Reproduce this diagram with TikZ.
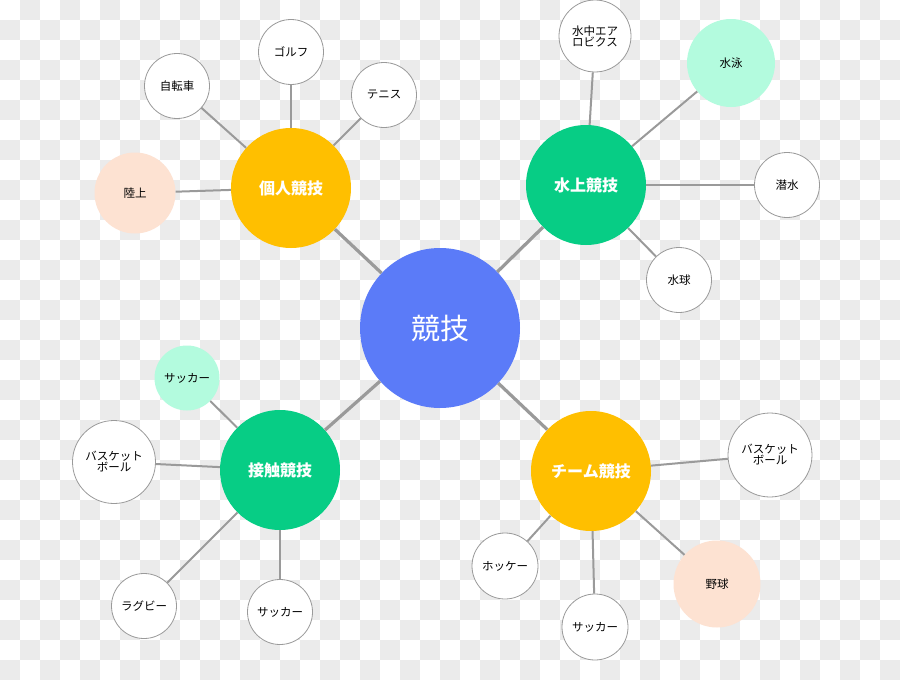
\documentclass[tikz,border=0pt]{standalone}
\usepackage{fontspec}
\setmainfont{Noto Sans CJK JP}
\definecolor{checkgray}{HTML}{EBEBEB}
\definecolor{hubblue}{HTML}{5B7BF8}
\definecolor{midyellow}{HTML}{FFBF00}
\definecolor{midgreen}{HTML}{07CD85}
\definecolor{mintfill}{HTML}{B3FBDE}
\definecolor{peachfill}{HTML}{FDE2D2}
\definecolor{edgegray}{HTML}{9A9A9A}
\tikzset{
  hub/.style={circle, fill=hubblue, inner sep=0pt, minimum size=160pt, text=white, font=\fontsize{29}{30}\selectfont},
  mid/.style={circle, fill=#1, inner sep=0pt, minimum size=120pt, text=white, font=\fontsize{16}{18}\selectfont\bfseries},
  leaf/.style={circle, draw=edgegray, line width=0.8pt, fill=white, inner sep=0pt, minimum size=#1, text=black, align=center, font=\fontsize{11.5}{12}\selectfont},
  leaf/.default=65pt,
  mintleaf/.style={circle, fill=mintfill, inner sep=0pt, minimum size=#1, text=black, font=\fontsize{11.5}{12}\selectfont},
  peachleaf/.style={circle, fill=peachfill, inner sep=0pt, minimum size=#1, text=black, font=\fontsize{11.5}{12}\selectfont},
  spoke/.style={draw=edgegray, line width=3.2pt},
  twig/.style={draw=edgegray, line width=2pt},
}
\begin{document}
\begin{tikzpicture}[x=1pt,y=-1pt]
\useasboundingbox (0,0) rectangle (900,680);
\fill[white] (0,0) rectangle (900,680);
\foreach \i in {0,...,44}{
  \foreach \j in {0,...,33}{
    \pgfmathtruncatemacro\cellpar{mod(\i+\j,2)}
    \ifnum\cellpar=1 \fill[checkgray] (\i*20,\j*20) rectangle ++(20,20); \fi
  }
}
% hub and middle nodes
\node[hub] (hub) at (440,328) {競技};
\node[mid=midyellow] (indiv) at (291,188) {個人競技};
\node[mid=midgreen] (water) at (586,185) {水上競技};
\node[mid=midgreen] (contact) at (280,470) {接触競技};
\node[mid=midyellow] (team) at (591,471) {チーム競技};
% leaves
\node[leaf] (golf) at (291,52) {ゴルフ};
\node[leaf] (bike) at (177,86) {自転車};
\node[leaf] (tennis) at (384,95) {テニス};
\node[peachleaf=81pt] (track) at (135,193) {陸上};
\node[leaf=72pt] (aero) at (595,36) {水中エア\\[-1pt]ロビクス};
\node[mintleaf=88pt] (swim) at (731,63) {水泳};
\node[leaf] (dive) at (787,185) {潜水};
\node[leaf] (polo) at (679,280) {水球};
\node[mintleaf=65pt] (soccerA) at (187,378) {サッカー};
\node[leaf=83pt] (basketA) at (114,462) {バスケット\\[-1pt]ボール};
\node[leaf] (rugby) at (144,606) {ラグビー};
\node[leaf] (soccerB) at (280,612) {サッカー};
\node[leaf=84pt] (basketB) at (770,455) {バスケット\\[-1pt]ボール};
\node[leaf=66pt] (hockey) at (505,566) {ホッケー};
\node[leaf=66pt] (soccerC) at (595,627) {サッカー};
\node[peachleaf=87pt] (baseball) at (717,584) {野球};
% connectors
\draw[spoke] (hub) -- (indiv);
\draw[spoke] (hub) -- (water);
\draw[spoke] (hub) -- (contact);
\draw[spoke] (hub) -- (team);
\draw[twig] (indiv) -- (golf);
\draw[twig] (indiv) -- (bike);
\draw[twig] (indiv) -- (tennis);
\draw[twig] (indiv) -- (track);
\draw[twig] (water) -- (aero);
\draw[twig] (water) -- (swim);
\draw[twig] (water) -- (dive);
\draw[twig] (water) -- (polo);
\draw[twig] (contact) -- (soccerA);
\draw[twig] (contact) -- (basketA);
\draw[twig] (contact) -- (rugby);
\draw[twig] (contact) -- (soccerB);
\draw[twig] (team) -- (basketB);
\draw[twig] (team) -- (hockey);
\draw[twig] (team) -- (soccerC);
\draw[twig] (team) -- (baseball);
\end{tikzpicture}
\end{document}
